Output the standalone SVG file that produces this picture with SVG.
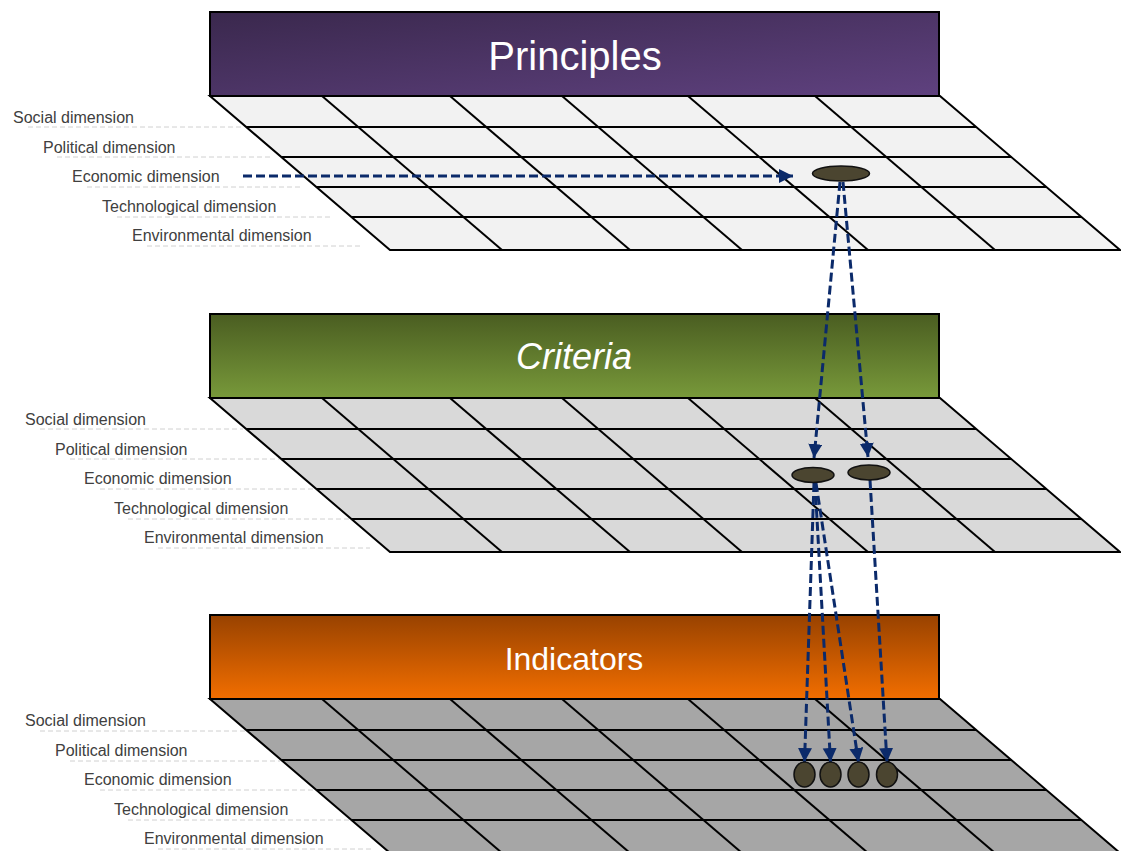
<svg xmlns="http://www.w3.org/2000/svg" width="1121" height="851" viewBox="0 0 1121 851">
  <defs>
    <linearGradient id="gPurple" x1="0" y1="0" x2="1" y2="1">
      <stop offset="0" stop-color="#3a284d"/>
      <stop offset="1" stop-color="#5f417f"/>
    </linearGradient>
    <linearGradient id="gGreen" x1="0" y1="0" x2="0" y2="1">
      <stop offset="0" stop-color="#4a5d21"/>
      <stop offset="1" stop-color="#78993a"/>
    </linearGradient>
    <linearGradient id="gOrange" x1="0" y1="0" x2="0" y2="1">
      <stop offset="0" stop-color="#984200"/>
      <stop offset="1" stop-color="#f26e00"/>
    </linearGradient>
    <marker id="arr" markerUnits="userSpaceOnUse" markerWidth="16" markerHeight="16" refX="14" refY="7" orient="auto">
      <path d="M0,0 L14,7 L0,14 Z" fill="#0b2a6a"/>
    </marker>
    <style>
      .hdr { stroke: #000; stroke-width: 2; }
      .grid { stroke: #000; stroke-width: 2; stroke-linejoin: miter; }
      .gl { stroke: #000; stroke-width: 2; fill: none; }
      .lbl { font-family: "Liberation Sans", Arial, sans-serif; font-size: 16px; fill: #404040; }
      .ul { stroke: #d0d0d0; stroke-width: 1; stroke-dasharray: 5 3; fill: none; }
      .title { font-family: "Liberation Sans", Arial, sans-serif; fill: #ffffff; text-anchor: middle; }
      .con { stroke: #0b2a6a; stroke-width: 3; stroke-dasharray: 9 4; fill: none; }
      .dot { fill: #4b4530; stroke: #111; stroke-width: 1.5; }
    </style>
  </defs>

  <!-- Principles layer -->
  <g id="principles">
    <g class="ul">
      <line x1="28" y1="127" x2="243" y2="127"/>
      <line x1="57" y1="157" x2="272" y2="157"/>
      <line x1="87" y1="187" x2="300" y2="187"/>
      <line x1="117" y1="217" x2="330" y2="217"/>
      <line x1="147" y1="246" x2="360" y2="246"/>
    </g>
    <g class="lbl">
      <text x="13" y="123">Social dimension</text>
      <text x="43" y="152.5">Political dimension</text>
      <text x="72" y="182">Economic dimension</text>
      <text x="102" y="211.5">Technological dimension</text>
      <text x="132" y="241">Environmental dimension</text>
    </g>
    <polygon class="grid" points="210,96 940,96 1120,250 390,250" fill="#f2f2f2"/>
    <g class="gl">
      <line x1="246.2" y1="127" x2="976.2" y2="127"/>
      <line x1="281.3" y1="157" x2="1011.3" y2="157"/>
      <line x1="316.4" y1="187" x2="1046.4" y2="187"/>
      <line x1="351.4" y1="217" x2="1081.4" y2="217"/>
      <line x1="322" y1="96" x2="502" y2="250"/>
      <line x1="450" y1="96" x2="630" y2="250"/>
      <line x1="562" y1="96" x2="742" y2="250"/>
      <line x1="688" y1="96" x2="868" y2="250"/>
      <line x1="815" y1="96" x2="995" y2="250"/>
    </g>
    <rect class="hdr" x="210" y="12" width="729" height="84" fill="url(#gPurple)"/>
    <text class="title" x="575" y="70" font-size="40">Principles</text>
  </g>

  <!-- Criteria layer -->
  <g id="criteria">
    <g class="ul">
      <line x1="40" y1="429" x2="243" y2="429"/>
      <line x1="70" y1="459" x2="280" y2="459"/>
      <line x1="100" y1="489" x2="316" y2="489"/>
      <line x1="128" y1="519" x2="350" y2="519"/>
      <line x1="158" y1="548" x2="370" y2="548"/>
    </g>
    <g class="lbl">
      <text x="25" y="425">Social dimension</text>
      <text x="55" y="454.5">Political dimension</text>
      <text x="84" y="484">Economic dimension</text>
      <text x="114" y="513.5">Technological dimension</text>
      <text x="144" y="543">Environmental dimension</text>
    </g>
    <polygon class="grid" points="210,398 940,398 1120,552 390,552" fill="#d9d9d9"/>
    <g class="gl">
      <line x1="246.2" y1="429" x2="976.2" y2="429"/>
      <line x1="281.3" y1="459" x2="1011.3" y2="459"/>
      <line x1="316.4" y1="489" x2="1046.4" y2="489"/>
      <line x1="351.4" y1="519" x2="1081.4" y2="519"/>
      <line x1="322" y1="398" x2="502" y2="552"/>
      <line x1="450" y1="398" x2="630" y2="552"/>
      <line x1="562" y1="398" x2="742" y2="552"/>
      <line x1="688" y1="398" x2="868" y2="552"/>
      <line x1="815" y1="398" x2="995" y2="552"/>
    </g>
    <rect class="hdr" x="210" y="314" width="729" height="84" fill="url(#gGreen)"/>
    <text class="title" x="574" y="369" font-size="36" font-style="italic">Criteria</text>
  </g>

  <!-- Indicators layer -->
  <g id="indicators">
    <g class="ul">
      <line x1="40" y1="731" x2="246" y2="731"/>
      <line x1="70" y1="761" x2="280" y2="761"/>
      <line x1="100" y1="790" x2="318" y2="790"/>
      <line x1="128" y1="820" x2="350" y2="820"/>
      <line x1="158" y1="849" x2="372" y2="849"/>
    </g>
    <g class="lbl">
      <text x="25" y="726">Social dimension</text>
      <text x="55" y="755.5">Political dimension</text>
      <text x="84" y="785">Economic dimension</text>
      <text x="114" y="814.5">Technological dimension</text>
      <text x="144" y="844">Environmental dimension</text>
    </g>
    <polygon class="grid" points="210,699 940,699 1120,853 390,853" fill="#a6a6a6"/>
    <g class="gl">
      <line x1="246.2" y1="730" x2="976.2" y2="730"/>
      <line x1="281.3" y1="760" x2="1011.3" y2="760"/>
      <line x1="316.4" y1="790" x2="1046.4" y2="790"/>
      <line x1="351.4" y1="820" x2="1081.4" y2="820"/>
      <line x1="322" y1="699" x2="502" y2="853"/>
      <line x1="450" y1="699" x2="630" y2="853"/>
      <line x1="562" y1="699" x2="742" y2="853"/>
      <line x1="688" y1="699" x2="868" y2="853"/>
      <line x1="815" y1="699" x2="995" y2="853"/>
    </g>
    <rect class="hdr" x="210" y="615" width="729" height="84" fill="url(#gOrange)"/>
    <text class="title" x="574" y="670" font-size="32">Indicators</text>
  </g>

  <!-- Connectors -->
  <g id="connectors" class="con">
    <line x1="243" y1="176" x2="793" y2="176" marker-end="url(#arr)"/>
    <line x1="840" y1="182" x2="814" y2="458" marker-end="url(#arr)"/>
    <line x1="843" y1="182" x2="868" y2="457" marker-end="url(#arr)"/>
    <line x1="814" y1="483" x2="804.5" y2="762" marker-end="url(#arr)"/>
    <line x1="815" y1="483" x2="830.5" y2="762" marker-end="url(#arr)"/>
    <line x1="816" y1="483" x2="858.5" y2="762" marker-end="url(#arr)"/>
    <line x1="870" y1="480" x2="887" y2="762" marker-end="url(#arr)"/>
  </g>

  <!-- Marker nodes -->
  <g id="principle-economic">
    <ellipse class="dot" cx="841" cy="173.5" rx="28.5" ry="7.5"/>
  </g>
  <g id="criterion-1">
    <ellipse class="dot" cx="813" cy="475" rx="21" ry="7.5"/>
  </g>
  <g id="criterion-2">
    <ellipse class="dot" cx="869" cy="472.5" rx="21" ry="7.5"/>
  </g>
  <g id="indicator-1">
    <ellipse class="dot" cx="804.5" cy="774.5" rx="10.5" ry="12.5"/>
  </g>
  <g id="indicator-2">
    <ellipse class="dot" cx="830.5" cy="774.5" rx="10.5" ry="12.5"/>
  </g>
  <g id="indicator-3">
    <ellipse class="dot" cx="858.5" cy="774.5" rx="10.5" ry="12.5"/>
  </g>
  <g id="indicator-4">
    <ellipse class="dot" cx="887" cy="774.5" rx="10.5" ry="12.5"/>
  </g>
</svg>
